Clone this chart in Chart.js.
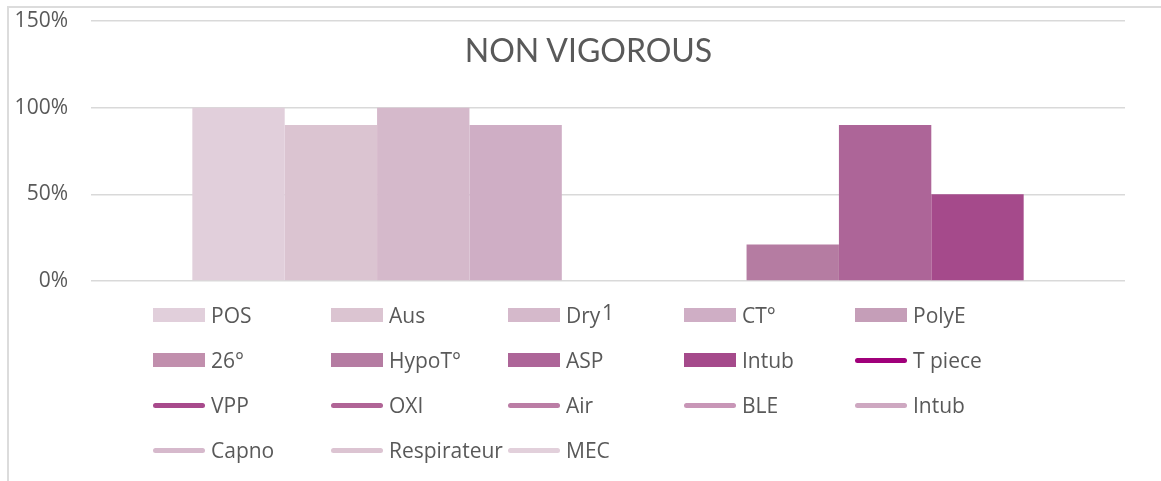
<!DOCTYPE html>
<html>
<head>
<meta charset="utf-8">
<script src="https://cdn.jsdelivr.net/npm/chart.js@4"></script>
<style>
  html, body { margin: 0; padding: 0; background: #fff; }
  #wrap { position: relative; width: 1161px; height: 481px; overflow: hidden; font-family: "Open Sans", sans-serif; color: #595959; }
  #frame { position: absolute; left: 7px; top: 6px; width: 1300px; height: 600px; border: 2px solid #dcdcdc; box-sizing: border-box; }
  #c { position: absolute; left: 0; top: 0; }
  #title { position: absolute; left: 0; width: 1177px; top: 30px; text-align: center; font-family: Lato, sans-serif; font-size: 32px; line-height: 40px; }
  #legend { position: absolute; left: 153px; top: 303px; display: grid; grid-template-columns: 178px 177px 176px 171px 176px; grid-auto-rows: 45px; font-size: 21px; }
  .item { display: flex; align-items: center; height: 24px; white-space: nowrap; }
  .sw { width: 52px; height: 14px; margin-right: 6px; flex: none; }
  .ln { width: 52px; height: 5px; border-radius: 3px; margin-right: 6px; flex: none; }
</style>
</head>
<body>
<div id="wrap">
  <div id="frame"></div>
  <canvas id="c" width="1161" height="481"></canvas>
  <div id="title">NON VIGOROUS</div>
  <div id="legend"></div>
</div>
<script>
// données
const categories = ['1'];

const barLabels = ['POS', 'Aus', 'Dry', 'CT°', 'PolyE', '26°', 'HypoT°', 'ASP', 'Intub'];
const barValues = [100, 90, 100, 90, 0, 0, 21, 90, 50];
const barColors = ['#e1cfdb', '#dbc4d1', '#d5b9cb', '#cfaec5', '#c59eb8', '#c18fad', '#b57ca2', '#ad6598', '#a54a8b'];

const lineLabels = ['T piece', 'VPP', 'OXI', 'Air', 'BLE', 'Intub', 'Capno', 'Respirateur', 'MEC'];
const lineValues = [null, null, null, null, null, null, null, null, null];
const lineColors = ['#a0007a', '#a84a8c', '#b06496', '#bb7da5', '#c896b7', '#cea8c1', '#d6b9cc', '#dcc4d2', '#e2d0db'];

const yTicks = [0, 50, 100, 150];

const datasets = [];
barLabels.forEach((lab, i) => {
  datasets.push({
    type: 'bar',
    label: lab,
    data: [barValues[i]],
    backgroundColor: barColors[i],
    borderWidth: 0,
    categoryPercentage: 0.804,
    barPercentage: 1
  });
});
lineLabels.forEach((lab, i) => {
  datasets.push({
    type: 'line',
    label: lab,
    data: [lineValues[i]],
    borderColor: lineColors[i],
    backgroundColor: lineColors[i],
    borderWidth: 5,
    pointRadius: 0
  });
});

const chart = new Chart(document.getElementById('c'), {
  type: 'bar',
  data: { labels: categories, datasets: datasets },
  options: {
    responsive: false,
    animation: false,
    layout: { padding: { left: 8, top: 21, right: 36, bottom: 140 } },
    plugins: {
      legend: { display: false },
      tooltip: { enabled: false }
    },
    scales: {
      x: {
        grid: { display: false },
        border: { display: false },
        ticks: { color: '#595959', font: { family: 'Open Sans', size: 21 }, padding: 12 },
        afterFit: s => { s.height = 60; }
      },
      y: {
        min: 0,
        max: 150,
        afterBuildTicks: s => { s.ticks = yTicks.map(v => ({ value: v })); },
        grid: { color: '#d9d9d9', lineWidth: 1.5, drawTicks: true, tickLength: 23, tickColor: 'transparent' },
        border: { display: false },
        ticks: {
          color: '#595959',
          font: { family: 'Open Sans', size: 21 },
          padding: 0,
          callback: v => v + '%'
        },
        afterFit: s => { s.width = 83; }
      }
    }
  }
});

// légende HTML en grille (comme Excel)
const legendEl = document.getElementById('legend');
chart.data.datasets.forEach(ds => {
  const item = document.createElement('div');
  item.className = 'item';
  const sw = document.createElement('span');
  if (ds.type === 'line') {
    sw.className = 'ln';
    sw.style.background = ds.borderColor;
  } else {
    sw.className = 'sw';
    sw.style.background = ds.backgroundColor;
  }
  const txt = document.createElement('span');
  txt.textContent = ds.label;
  item.appendChild(sw);
  item.appendChild(txt);
  legendEl.appendChild(item);
});
</script>
</body>
</html>
